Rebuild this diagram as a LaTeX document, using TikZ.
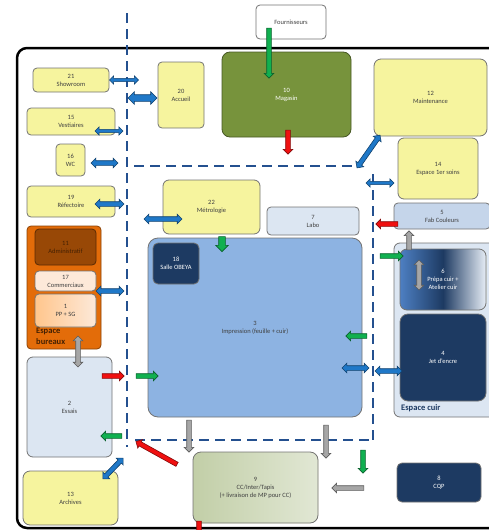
\documentclass[tikz,border=0pt]{standalone}
\usepackage{fontspec}
\setmainfont{Carlito}
\usepackage{tikz}
\usetikzlibrary{shapes.arrows,positioning}
\definecolor{roomyellow}{HTML}{F6F49E}
\definecolor{olive}{HTML}{77933C}
\definecolor{paleblue}{HTML}{DCE6F2}
\definecolor{midblue}{HTML}{C5D5EA}
\definecolor{printblue}{HTML}{8DB3E2}
\definecolor{steelblue}{HTML}{4D7FC2}
\definecolor{navy}{HTML}{1D3A62}
\definecolor{orangezone}{HTML}{E36C09}
\definecolor{orangeedge}{HTML}{8A4206}
\definecolor{brownroom}{HTML}{984806}
\definecolor{peach}{HTML}{FDE9D9}
\definecolor{zoneblue}{HTML}{24508F}
\definecolor{flowblue}{HTML}{1F78C8}
\definecolor{flowgreen}{HTML}{10B050}
\definecolor{flowred}{HTML}{F01010}
\definecolor{flowgray}{HTML}{A6A6A6}
\newcommand\roomFont{\fontsize{6.5}{8}\selectfont}
\tikzset
{
    room/.style = {rectangle, rounded corners=4pt, draw=black!55, line width=0.8pt, fill=roomyellow, align=center, text=black!75, font=\roomFont, inner sep=1pt},
    darkroom/.style = {room, fill=navy, text=white},
    zonelabel/.style = {font=\fontsize{8.5}{10.5}\selectfont\bfseries, align=left, inner sep=0pt},
    oneway/.style = {single arrow, draw=#1!55!black, fill=#1, line width=0.6pt, inner sep=2pt, single arrow head extend=2.5pt},
    twoway/.style = {double arrow, draw=#1!55!black, fill=#1, line width=0.6pt, inner sep=2pt, double arrow head extend=2.5pt},
    thin/.style = {inner sep=1.3pt},
    fat/.style = {inner sep=3pt, single arrow head extend=3pt, double arrow head extend=3pt},
    zone/.style = {dash pattern=on 10pt off 6pt, line width=2.4pt, draw=zoneblue}
}

\begin{document}
\begin{tikzpicture}[x=1pt, y=-1pt]
\useasboundingbox (0,0) rectangle (488,530);
\draw[line width=2.5pt, rounded corners=10pt] (17,48) rectangle (520,528);
% zones
\node(bureaux) [room, fill=orangezone, draw=orangeedge, minimum width=74, minimum height=123] at (64,287.5) {};
\node(cuir) [room, fill=paleblue, minimum width=106, minimum height=174, rounded corners=6pt] at (447,330) {};
% rooms
\node(fourn) [room, fill=white, minimum width=70, minimum height=34] at (291,22) {Fournisseurs};
\node(showroom) [room, minimum width=76, minimum height=24] at (71,80) {21\\Showroom};
\node(vestiaires) [room, minimum width=88, minimum height=27] at (71,121.5) {15\\Vestiaires};
\node(wc) [room, minimum width=29, minimum height=32] at (70.5,160) {16\\WC};
\node(accueil) [room, minimum width=46, minimum height=66] at (181,95) {20\\Accueil};
\node(magasin) [room, fill=olive, draw=olive!60!black, text=white, rounded corners=8pt, minimum width=129, minimum height=85] at (286.5,94.5) {10\\Magasin};
\node(maintenance) [room, rounded corners=7pt, minimum width=113, minimum height=77] at (430.5,97.5) {12\\Maintenance};
\node(soins) [room, rounded corners=6pt, minimum width=80, minimum height=61] at (438,168.5) {14\\Espace 1er soins};
\node(refectoire) [room, minimum width=88, minimum height=31] at (71,201.5) {19\\Réfectoire};
\node(metrologie) [room, rounded corners=6pt, minimum width=97, minimum height=54] at (211.5,207) {22\\Métrologie};
\node(labo) [room, fill=paleblue, minimum width=92, minimum height=28] at (313,221) {7\\Labo};
\node(fabcoul) [room, fill=midblue, minimum width=96, minimum height=26] at (442,216) {5\\Fab Couleurs};
\node(admin) [room, fill=brownroom, draw=brownroom!60!black, text=brownroom!45!black, minimum width=61, minimum height=36] at (65.5,247) {11\\Administratif};
\node(commerciaux) [room, fill=peach, minimum width=61, minimum height=20] at (65.5,281) {17\\Commerciaux};
\node(ppsg) [room, left color=orange!45!white, right color=peach, minimum width=61, minimum height=33] at (65.5,310.5) {1\\PP + SG};
\node(impression) [room, fill=printblue, rounded corners=10pt, minimum width=214, minimum height=179] at (255,327.5) {3\\Impression (feuille + cuir)};
\node(obeya) [darkroom, rounded corners=5pt, minimum width=46, minimum height=41] at (176,263.5) {18\\Salle OBEYA};
\node(prepa) [room, text=white, left color=steelblue, right color=paleblue!70!white, middle color=navy, rounded corners=7pt, minimum width=86, minimum height=61] at (443,279.5) {6\\Prépa cuir +\\Atelier cuir};
\node(jet) [darkroom, rounded corners=8pt, minimum width=86, minimum height=87] at (443,357.5) {4\\Jet d'encre};
\node(essais) [room, fill=paleblue, rounded corners=6pt, minimum width=85, minimum height=100] at (69.5,407) {2\\Essais};
\node(archives) [room, rounded corners=7pt, minimum width=95, minimum height=54] at (70.5,498) {13\\Archives};
\node(cc) [room, left color=olive!45!white, right color=olive!22!white, rounded corners=8pt, minimum width=125, minimum height=71] at (255.5,487.5) {9\\CC/Inter/Tapis\\(+ livraison de MP pour CC)};
\node(cqp) [darkroom, rounded corners=5pt, minimum width=84, minimum height=39] at (439,482.5) {8\\CQP};
\node(bureauxlabel) [zonelabel, text=orangeedge!50!black, anchor=north west] at (36,328) {Espace\\bureaux};
\node(cuirlabel) [zonelabel, text=navy, anchor=west] at (401,408) {Espace cuir};
% circulation
\draw[zone] (127,13) -- (127,447);
\draw[zone] (134,166) -- (358,166);
\draw[zone] (373,174) -- (373,442);
\draw[zone] (135,440) -- (370,440);
% flows
\node(bShow) [twoway=flowblue, thin, minimum height=29] at (124,80) {};
\node(bAcc) [twoway=flowblue, fat, minimum height=29] at (142.5,98) {};
\node(bVest) [twoway=flowblue, thin, minimum height=28] at (109,131) {};
\node(bWC) [twoway=flowblue, minimum height=27] at (104.5,163) {};
\node(bRef) [twoway=flowblue, minimum height=29] at (109.5,204) {};
\node(bMet) [twoway=flowblue, minimum height=38] at (163,219) {};
\node(bCom) [twoway=flowblue, minimum height=28] at (110,291) {};
\node(bMaint) [twoway=flowblue, minimum height=40, rotate=55] at (368.5,151.5) {};
\node(bSoins) [twoway=flowblue, thin, minimum height=28] at (380,183) {};
\node(bImp) [twoway=flowblue, minimum height=27] at (355.5,368) {};
\node(bJet) [twoway=flowblue, minimum height=27] at (388.5,371) {};
\node(bArch) [twoway=flowblue, minimum height=29, rotate=46] at (113,468.5) {};
\node(gFourn) [oneway=flowgreen, minimum height=50, rotate=-90] at (269,52) {};
\node(gMet) [oneway=flowgreen, fat, minimum height=15, rotate=-90] at (222,242.5) {};
\node(gPrepa) [oneway=flowgreen, minimum height=23] at (390.5,256) {};
\node(gImpOut) [oneway=flowgreen, minimum height=21, rotate=180] at (357.5,336) {};
\node(gImpIn) [oneway=flowgreen, minimum height=22] at (146,376) {};
\node(gEss) [oneway=flowgreen, minimum height=21, rotate=180] at (112.5,436) {};
\node(gCC) [oneway=flowgreen, minimum height=23, rotate=-90] at (363,460.5) {};
\node(rMag) [oneway=flowred, minimum height=24, rotate=-90] at (288,141) {};
\node(rFab) [oneway=flowred, minimum height=22, rotate=180] at (388,224) {};
\node(rEss) [oneway=flowred, minimum height=22] at (112,376) {};
\node(rCC) [oneway=flowred, minimum height=47, rotate=151] at (157.5,453.5) {};
\node(rOut) [oneway=flowred, minimum height=24, rotate=-90] at (199,532) {};
\node(yBur) [twoway=flowgray, minimum height=31, rotate=90] at (78,351.5) {};
\node(yFab) [oneway=flowgray, minimum height=19, rotate=90] at (409,241.5) {};
\node(yPrepa) [twoway=flowgray, minimum height=30, rotate=90] at (419,275) {};
\node(yImpA) [oneway=flowgray, minimum height=32, rotate=-90] at (189,435) {};
\node(yImpB) [oneway=flowgray, minimum height=33, rotate=-90] at (326,440.5) {};
\node(yCQP) [oneway=flowgray, minimum height=32, rotate=180] at (349,488) {};
\end{tikzpicture}
\end{document}
